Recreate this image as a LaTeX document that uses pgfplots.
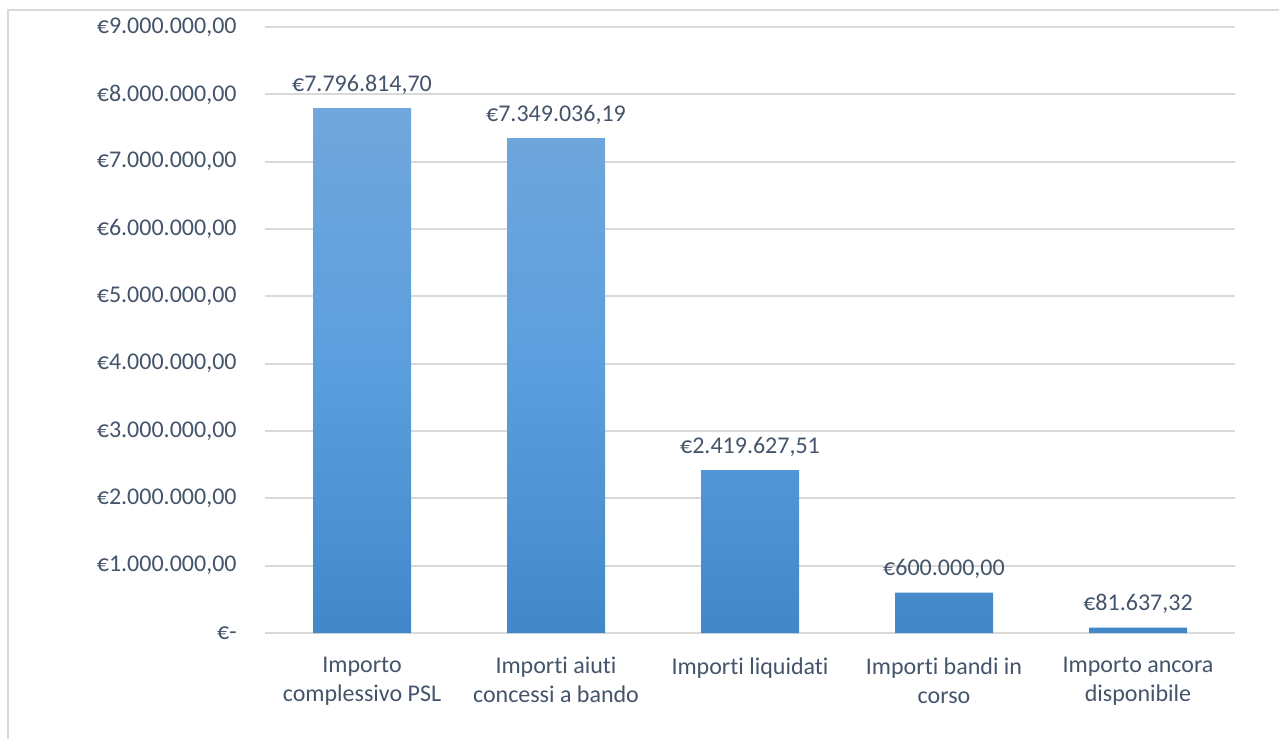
\documentclass[border=0pt]{standalone}
\usepackage{pgfplots}
\pgfplotsset{compat=1.18}
\usepackage{pgfplotstable}
\usepackage{fontspec}
\setmainfont{Carlito}[Ligatures=NoCommon]

\definecolor{txt}{RGB}{68,84,106}
\definecolor{gridc}{RGB}{217,217,217}
\definecolor{bartop}{RGB}{113,167,220}
\definecolor{barmid}{RGB}{91,158,222}
\definecolor{barbot}{RGB}{66,136,200}

\pgfplotstableread{
x y label
0 7796814.70 €7.796.814,70
1 7349036.19 €7.349.036,19
2 2419627.51 €2.419.627,51
3 600000.00 €600.000,00
4 81637.32 €81.637,32
}\importi

\begin{document}
\begin{tikzpicture}
\useasboundingbox (0,0) rectangle (639.5bp,-369.5bp);
\draw[gridc, line width=1bp] (4bp,-380bp) -- (4bp,-5bp) -- (650bp,-5bp);
\begin{axis}[
    at={(132.5bp,-316.5bp)}, anchor=south west,
    scale only axis,
    width=485bp, height=303bp,
    xmin=-0.5, xmax=4.5,
    ymin=0, ymax=9000000,
    xtick=data,
    xticklabels={Importo\\complessivo PSL, Importi aiuti\\concessi a bando, Importi liquidati, Importi bandi in\\corso, Importo ancora\\disponibile},
    ytick={0,1000000,...,9000000},
    yticklabels={€-, {€1.000.000,00}, {€2.000.000,00}, {€3.000.000,00}, {€4.000.000,00}, {€5.000.000,00}, {€6.000.000,00}, {€7.000.000,00}, {€8.000.000,00}, {€9.000.000,00}},
    scaled ticks=false,
    major tick length=0pt,
    axis lines*=left,
    y axis line style={draw=none},
    x axis line style={draw=gridc, line width=0.9bp, -},
    ymajorgrids=true,
    xmajorgrids=false,
    grid style={draw=gridc, line width=0.9bp},
    tick label style={font=\fontsize{12bp}{14.5bp}\selectfont, text=txt},
    xticklabel style={align=center, anchor=north, inner sep=0pt, yshift=-12bp},
    yticklabel style={anchor=east, inner sep=0pt, xshift=-14bp},
    clip=false,
    point meta=explicit symbolic,
    nodes near coords,
    nodes near coords style={font=\fontsize{12bp}{14bp}\selectfont, text=txt, anchor=base, inner sep=0pt, yshift=8.5bp},
]
\addplot[ybar, bar width=49bp, draw=none, top color=bartop, bottom color=barbot, middle color=barmid]
    table[x=x, y=y, meta=label] {\importi};
\end{axis}
\end{tikzpicture}
\end{document}
